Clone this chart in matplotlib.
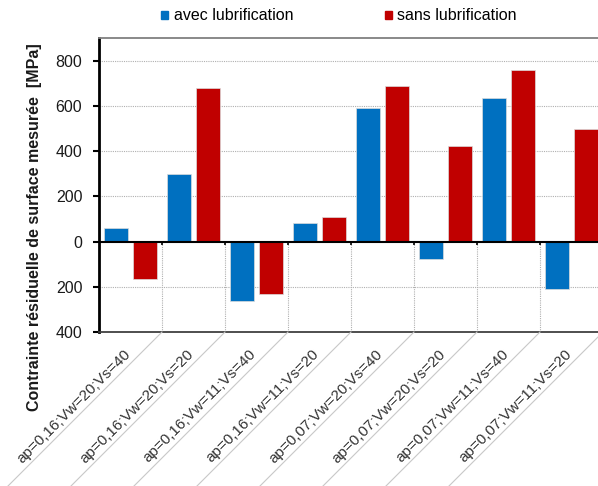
import numpy as np
import matplotlib
matplotlib.use('Agg')
import matplotlib.pyplot as plt
from matplotlib.lines import Line2D
from matplotlib.patches import Patch
from matplotlib.transforms import IdentityTransform

plt.rcParams['font.family'] = ['Liberation Sans', 'DejaVu Sans']

categories = ['ap=0,16;Vw=20;Vs=40', 'ap=0,16;Vw=20;Vs=20',
              'ap=0,16;Vw=11;Vs=40', 'ap=0,16;Vw=11;Vs=20',
              'ap=0,07;Vw=20;Vs=40', 'ap=0,07;Vw=20;Vs=20',
              'ap=0,07;Vw=11;Vs=40', 'ap=0,07;Vw=11;Vs=20']
avec = [58, 300, -265, 83, 590, -76, 634, -209]
sans = [-166, 678, -230, 108, 688, 422, 759, 498]
yticks = [-400, -200, 0, 200, 400, 600, 800]
ytick_labels = ['400', '200', '0', '200', '400', '600', '800']

blue = '#0070C0'
red = '#C00000'

fig = plt.figure(figsize=(5.98, 4.86), dpi=100)
ax = fig.add_axes([99/598, 1-332/486, 504/598, 294/486])

x = np.arange(len(categories))
w = 0.38
ax.bar(x - 0.225, avec, w, color=blue, edgecolor='#dcdcdc', linewidth=0.5, zorder=3)
ax.bar(x + 0.225, sans, w, color=red, edgecolor='#dcdcdc', linewidth=0.5, zorder=3)

ax.set_xlim(-0.5, len(categories) - 0.5)
ax.set_ylim(-400, 900)

# grid
for y in [-200, 200, 400, 600, 800]:
    ax.axhline(y, color='#b0b0b0', lw=0.8, ls=(0, (1, 1)), zorder=1)
bounds = np.arange(len(categories) + 1) - 0.5
ax.vlines(bounds[1:], -400, 0, color='#b0b0b0', lw=0.8, ls=(0, (1, 1)), zorder=1)
ax.axhline(0, color='black', lw=1.5, zorder=4)
# small ticks on zero line
ax.vlines(bounds[1:], -15, 0, color='black', lw=1.2, zorder=4)

ax.set_yticks(yticks)
ax.set_yticklabels(ytick_labels, fontsize=11.5, color='#1a1a1a')
ax.tick_params(axis='y', length=4, width=1.5, pad=8)
ax.set_xticks([])
ax.spines['left'].set_linewidth(2)
ax.spines['left'].set_color('black')
ax.spines['bottom'].set_color('#404040')
ax.spines['bottom'].set_linewidth(1.3)
ax.spines['top'].set_color('#808080')
ax.spines['top'].set_linewidth(1.3)
ax.spines['right'].set_visible(False)

fig.text(35/598, 1-227/486, 'Contrainte résiduelle de surface mesurée  [MPa]',
         rotation=90, ha='center', va='center', fontsize=11.5, fontweight='bold',
         color='#1a1a1a')

# slanted category label separators and labels
fig.canvas.draw()
L = 175
for b in bounds[1:]:
    x0, y0 = ax.transData.transform((b, -400))
    fig.add_artist(Line2D([x0, x0 - L], [y0, y0 - L], transform=IdentityTransform(),
                          color='#c8c8c8', lw=0.8))
for i, lab in enumerate(categories):
    x0, y0 = ax.transData.transform((bounds[i + 1], -400))
    t = 27
    fig.text(x0 - t - 2, y0 - t + 2, lab, transform=IdentityTransform(),
             rotation=45, rotation_mode='anchor', ha='right', va='bottom',
             fontsize=11, color='#333333')

handles = [Patch(color=blue), Patch(color=red)]
fig.legend(handles, ['avec lubrification', 'sans lubrification'],
           loc='center', bbox_to_anchor=(0.567, 1-16/486), ncol=2, frameon=False,
           fontsize=11.5, handlelength=0.45, handleheight=0.45, handletextpad=0.35,
           columnspacing=5.7)

fig.savefig('out.png', dpi=100)
